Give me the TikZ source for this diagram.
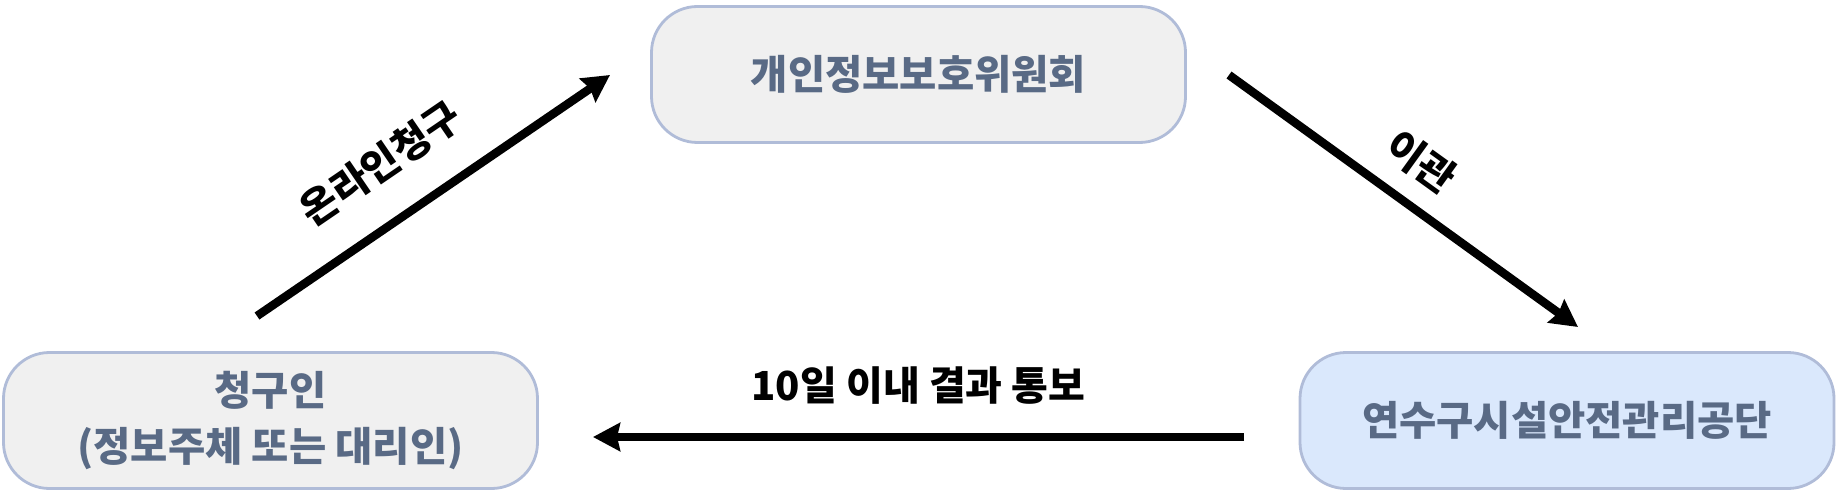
\documentclass[tikz,border=0pt]{standalone}
\usepackage{fontspec}
\setmainfont{Noto Sans CJK KR}
\usetikzlibrary{arrows.meta,positioning}
\definecolor{boxline}{HTML}{B0BCD8}
\definecolor{boxtext}{HTML}{596A85}
\definecolor{boxgray}{HTML}{F0F0F0}
\definecolor{boxblue}{HTML}{DAE8FC}

\begin{document}
\begin{tikzpicture}[x=1pt,y=-1pt,
    box/.style={draw=boxline, line width=2.8pt, fill=boxgray, rounded corners=46pt,
      minimum width=534pt, minimum height=136pt, align=center, text=boxtext,
      font=\fontsize{40.5}{56}\selectfont\bfseries},
    flow/.style={line width=8.5pt, -{Stealth[length=27pt,width=28pt,inset=3pt]}},
    lbl/.style={font=\fontsize{40}{46}\selectfont\bfseries}]
   \useasboundingbox (0,0) rectangle (1838,492);
   % boxes
   \node[box] (pipc) at (918.5,74.5) {개인정보보호위원회};
   \node[box] (applicant) at (270.5,420.5) {청구인\\(정보주체 또는 대리인)};
   \node[box, fill=boxblue] (agency) at (1567,420.5) {연수구시설안전관리공단};
   % arrow ends
   \coordinate (reqout) at (257,316);
   \coordinate (pipcin) at (610,75);
   \coordinate (pipcout) at (1229,75);
   \coordinate (agencyin) at (1578,327);
   \coordinate (agencyout) at (1244,437);
   \coordinate (reqin) at (593,437);
   % arrows
   \draw[flow] (reqout) -- node[lbl, sloped, pos=.44, above=30pt] {온라인청구} (pipcin);
   \draw[flow] (pipcout) -- node[lbl, sloped, pos=.48, above=16pt] {이관} (agencyin);
   \draw[flow] (agencyout) -- node[lbl, above=25pt] {10일 이내 결과 통보} (reqin);
\end{tikzpicture}
\end{document}
